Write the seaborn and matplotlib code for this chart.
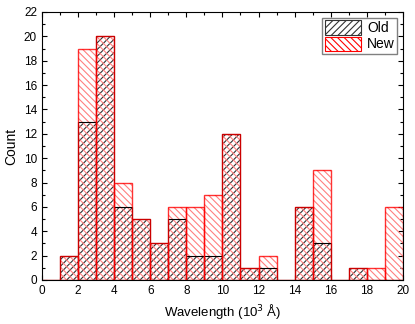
import numpy as np
import matplotlib
matplotlib.use("Agg")
import matplotlib.pyplot as plt
import seaborn as sns
from matplotlib.patches import Patch
from matplotlib.ticker import MultipleLocator

# bin edges (10^3 A) and counts per bin
bin_edges = list(range(0, 21))
old_counts = [0, 2, 13, 20, 6, 5, 3, 5, 2, 2, 12, 1, 1, 0, 6, 3, 0, 1, 0, 0]
new_counts = [0, 2, 19, 20, 8, 5, 3, 6, 6, 7, 12, 1, 2, 0, 6, 9, 0, 1, 1, 6]
bin_centers = [e + 0.5 for e in bin_edges[:-1]]

sns.set_theme(style="ticks")
plt.rcParams['font.family'] = ['Liberation Sans', 'DejaVu Sans']
plt.rcParams['hatch.linewidth'] = 0.8
plt.rcParams['text.color'] = 'black'
plt.rcParams['axes.labelcolor'] = 'black'
plt.rcParams['xtick.color'] = 'black'
plt.rcParams['ytick.color'] = 'black'

OLD_HATCH = '/////'
NEW_HATCH = '\\\\\\\\\\'
old_hatch_col = (0.2, 0.2, 0.2)
new_hatch_col = (1.0, 0.5, 0.5)

fig, ax = plt.subplots(figsize=(4.15, 3.24), dpi=100)
fig.subplots_adjust(left=0.101, right=0.971, top=0.963, bottom=0.136)


def layer(counts, style):
    start = len(ax.patches)
    sns.histplot(x=bin_centers, weights=counts, bins=bin_edges, ax=ax)
    for p in ax.patches[start:]:
        p.set_alpha(None)
        p.set_facecolor('none')
        style(p)


def old_fill(p):
    p.set_edgecolor(old_hatch_col)
    p.set_hatch(OLD_HATCH)
    p.set_linewidth(0)


def new_fill(p):
    p.set_edgecolor(new_hatch_col)
    p.set_hatch(NEW_HATCH)
    p.set_linewidth(0)


def old_edge(p):
    p.set_edgecolor('black')
    p.set_linewidth(0.8)


def new_edge(p):
    p.set_edgecolor((1, 0, 0, 0.8))
    p.set_linewidth(1.0)


layer(old_counts, old_fill)
layer(new_counts, new_fill)
layer(old_counts, old_edge)
layer(new_counts, new_edge)

ax.set_xlim(0, 20)
ax.set_ylim(0, 22)
ax.xaxis.set_major_locator(MultipleLocator(2))
ax.xaxis.set_minor_locator(MultipleLocator(1))
ax.yaxis.set_major_locator(MultipleLocator(2))
ax.yaxis.set_minor_locator(MultipleLocator(1))
ax.tick_params(which='both', direction='in', top=True, right=True,
               labelsize=8.5, color='black', width=0.8)
ax.tick_params(which='major', length=3.5)
ax.tick_params(which='minor', length=2)
for s in ax.spines.values():
    s.set_color('black')
    s.set_linewidth(0.8)

ax.set_xlabel('Wavelength (10$^3$ Å)', fontsize=9.5)
ax.set_ylabel('Count', fontsize=10)

handles = [Patch(facecolor='none', edgecolor=old_hatch_col, hatch=OLD_HATCH, label='Old', linewidth=0.8),
           Patch(facecolor='none', edgecolor='red', hatch=NEW_HATCH, label='New', linewidth=0.8)]
leg = ax.legend(handles=handles, loc='upper right', fontsize=10, frameon=True,
                fancybox=False, edgecolor='grey', framealpha=1,
                borderpad=0.2, handlelength=2.6, handleheight=1.2,
                handletextpad=0.4, labelspacing=0.1, borderaxespad=0.4)

fig.savefig('out.png', dpi=100)
